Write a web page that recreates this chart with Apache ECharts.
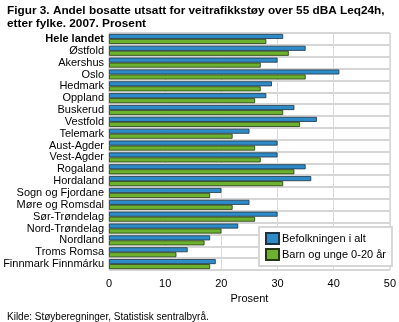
<!DOCTYPE html>
<html>
<head>
<meta charset="utf-8">
<script src="https://cdn.jsdelivr.net/npm/echarts@6/dist/echarts.min.js"></script>
<style>
  html, body { margin: 0; padding: 0; background: #fff; }
  #chart { width: 399px; height: 322px; }
</style>
</head>
<body>
<div id="chart"></div>
<script>
// Counties, top to bottom
const categories = [
  'Hele landet', 'Østfold', 'Akershus', 'Oslo', 'Hedmark', 'Oppland',
  'Buskerud', 'Vestfold', 'Telemark', 'Aust-Agder', 'Vest-Agder',
  'Rogaland', 'Hordaland', 'Sogn og Fjordane', 'Møre og Romsdal',
  'Sør-Trøndelag', 'Nord-Trøndelag', 'Nordland', 'Troms Romsa',
  'Finnmark Finnmárku'
];
// Share exposed to road traffic noise above 55 dBA, per cent
const befolkningen = [31, 35, 30, 41, 29, 28, 33, 37, 25, 30, 30, 35, 36, 20, 25, 30, 23, 18, 14, 19];
const barnOgUnge   = [28, 32, 27, 35, 27, 26, 31, 34, 22, 26, 27, 33, 31, 18, 22, 26, 20, 17, 12, 18];
const seriesNames = ['Befolkningen i alt', 'Barn og unge 0-20 år'];
const xTicks = [0, 10, 20, 30, 40, 50];

const FONT = 'Liberation Sans, Arial, sans-serif';
const chart = echarts.init(document.getElementById('chart'), null, { renderer: 'canvas' });

chart.setOption({
  animation: false,
  backgroundColor: '#fff',
  textStyle: { fontFamily: FONT },
  title: [
    {
      text: 'Figur 3. Andel bosatte utsatt for veitrafikkstøy over 55 dBA Leq24h,\netter fylke. 2007. Prosent',
      left: 2, top: -1,
      textStyle: { fontFamily: FONT, fontSize: 11.8, fontWeight: 'bold', color: '#000', lineHeight: 13 }
    },
    {
      text: 'Kilde: Støyberegninger, Statistisk sentralbyrå.',
      left: 2, top: 307,
      textStyle: { fontFamily: FONT, fontSize: 10, fontWeight: 'normal', color: '#000' }
    }
  ],
  legend: {
    orient: 'vertical',
    left: 259, top: 227,
    width: 131,
    padding: [5, 6, 5, 6],
    itemGap: 3,
    itemWidth: 13, itemHeight: 11,
    backgroundColor: '#fff',
    borderColor: '#d6d6d6', borderWidth: 2,
    icon: 'rect',
    textStyle: { fontFamily: FONT, fontSize: 11, color: '#000', padding: [0, 0, 0, -2] },
    data: seriesNames
  },
  grid: {
    left: 109, right: 7, top: 33, bottom: 52,
    show: true, borderColor: '#d0d0d0', borderWidth: 1,
    containLabel: false
  },
  xAxis: {
    type: 'value',
    min: 0, max: 50, interval: 10,
    name: 'Prosent',
    nameLocation: 'middle',
    nameGap: 22,
    nameTextStyle: { fontFamily: FONT, fontSize: 11, color: '#000' },
    axisLine: { show: false },
    axisTick: { show: false },
    axisLabel: {
      fontFamily: FONT, fontSize: 11, color: '#000', margin: 8,
      formatter: v => (xTicks.includes(v) ? String(v) : '')
    },
    splitLine: { show: true, lineStyle: { color: '#d9d9d9', width: 1 } }
  },
  yAxis: {
    type: 'category',
    inverse: true,
    data: categories,
    axisLine: { show: false },
    axisTick: { show: false },
    axisLabel: {
      interval: 0,
      fontFamily: FONT, fontSize: 11, color: '#000', margin: 5,
      formatter: v => (v === 'Hele landet' ? '{b|' + v + '}' : v),
      rich: { b: { fontFamily: FONT, fontSize: 11, fontWeight: 'bold', color: '#000' } }
    },
    splitLine: { show: true, interval: 0, lineStyle: { color: '#d6d6d6', width: 2 } }
  },
  series: [
    {
      name: seriesNames[0], type: 'bar', data: befolkningen,
      barWidth: 5, barGap: '0%',
      itemStyle: { color: '#2f8bc8', borderColor: '#1b3344', borderWidth: 0.8 }
    },
    {
      name: seriesNames[1], type: 'bar', data: barnOgUnge,
      barWidth: 5, barGap: '0%',
      itemStyle: { color: '#6db22f', borderColor: '#23380f', borderWidth: 0.8 }
    }
  ]
});
</script>
</body>
</html>
